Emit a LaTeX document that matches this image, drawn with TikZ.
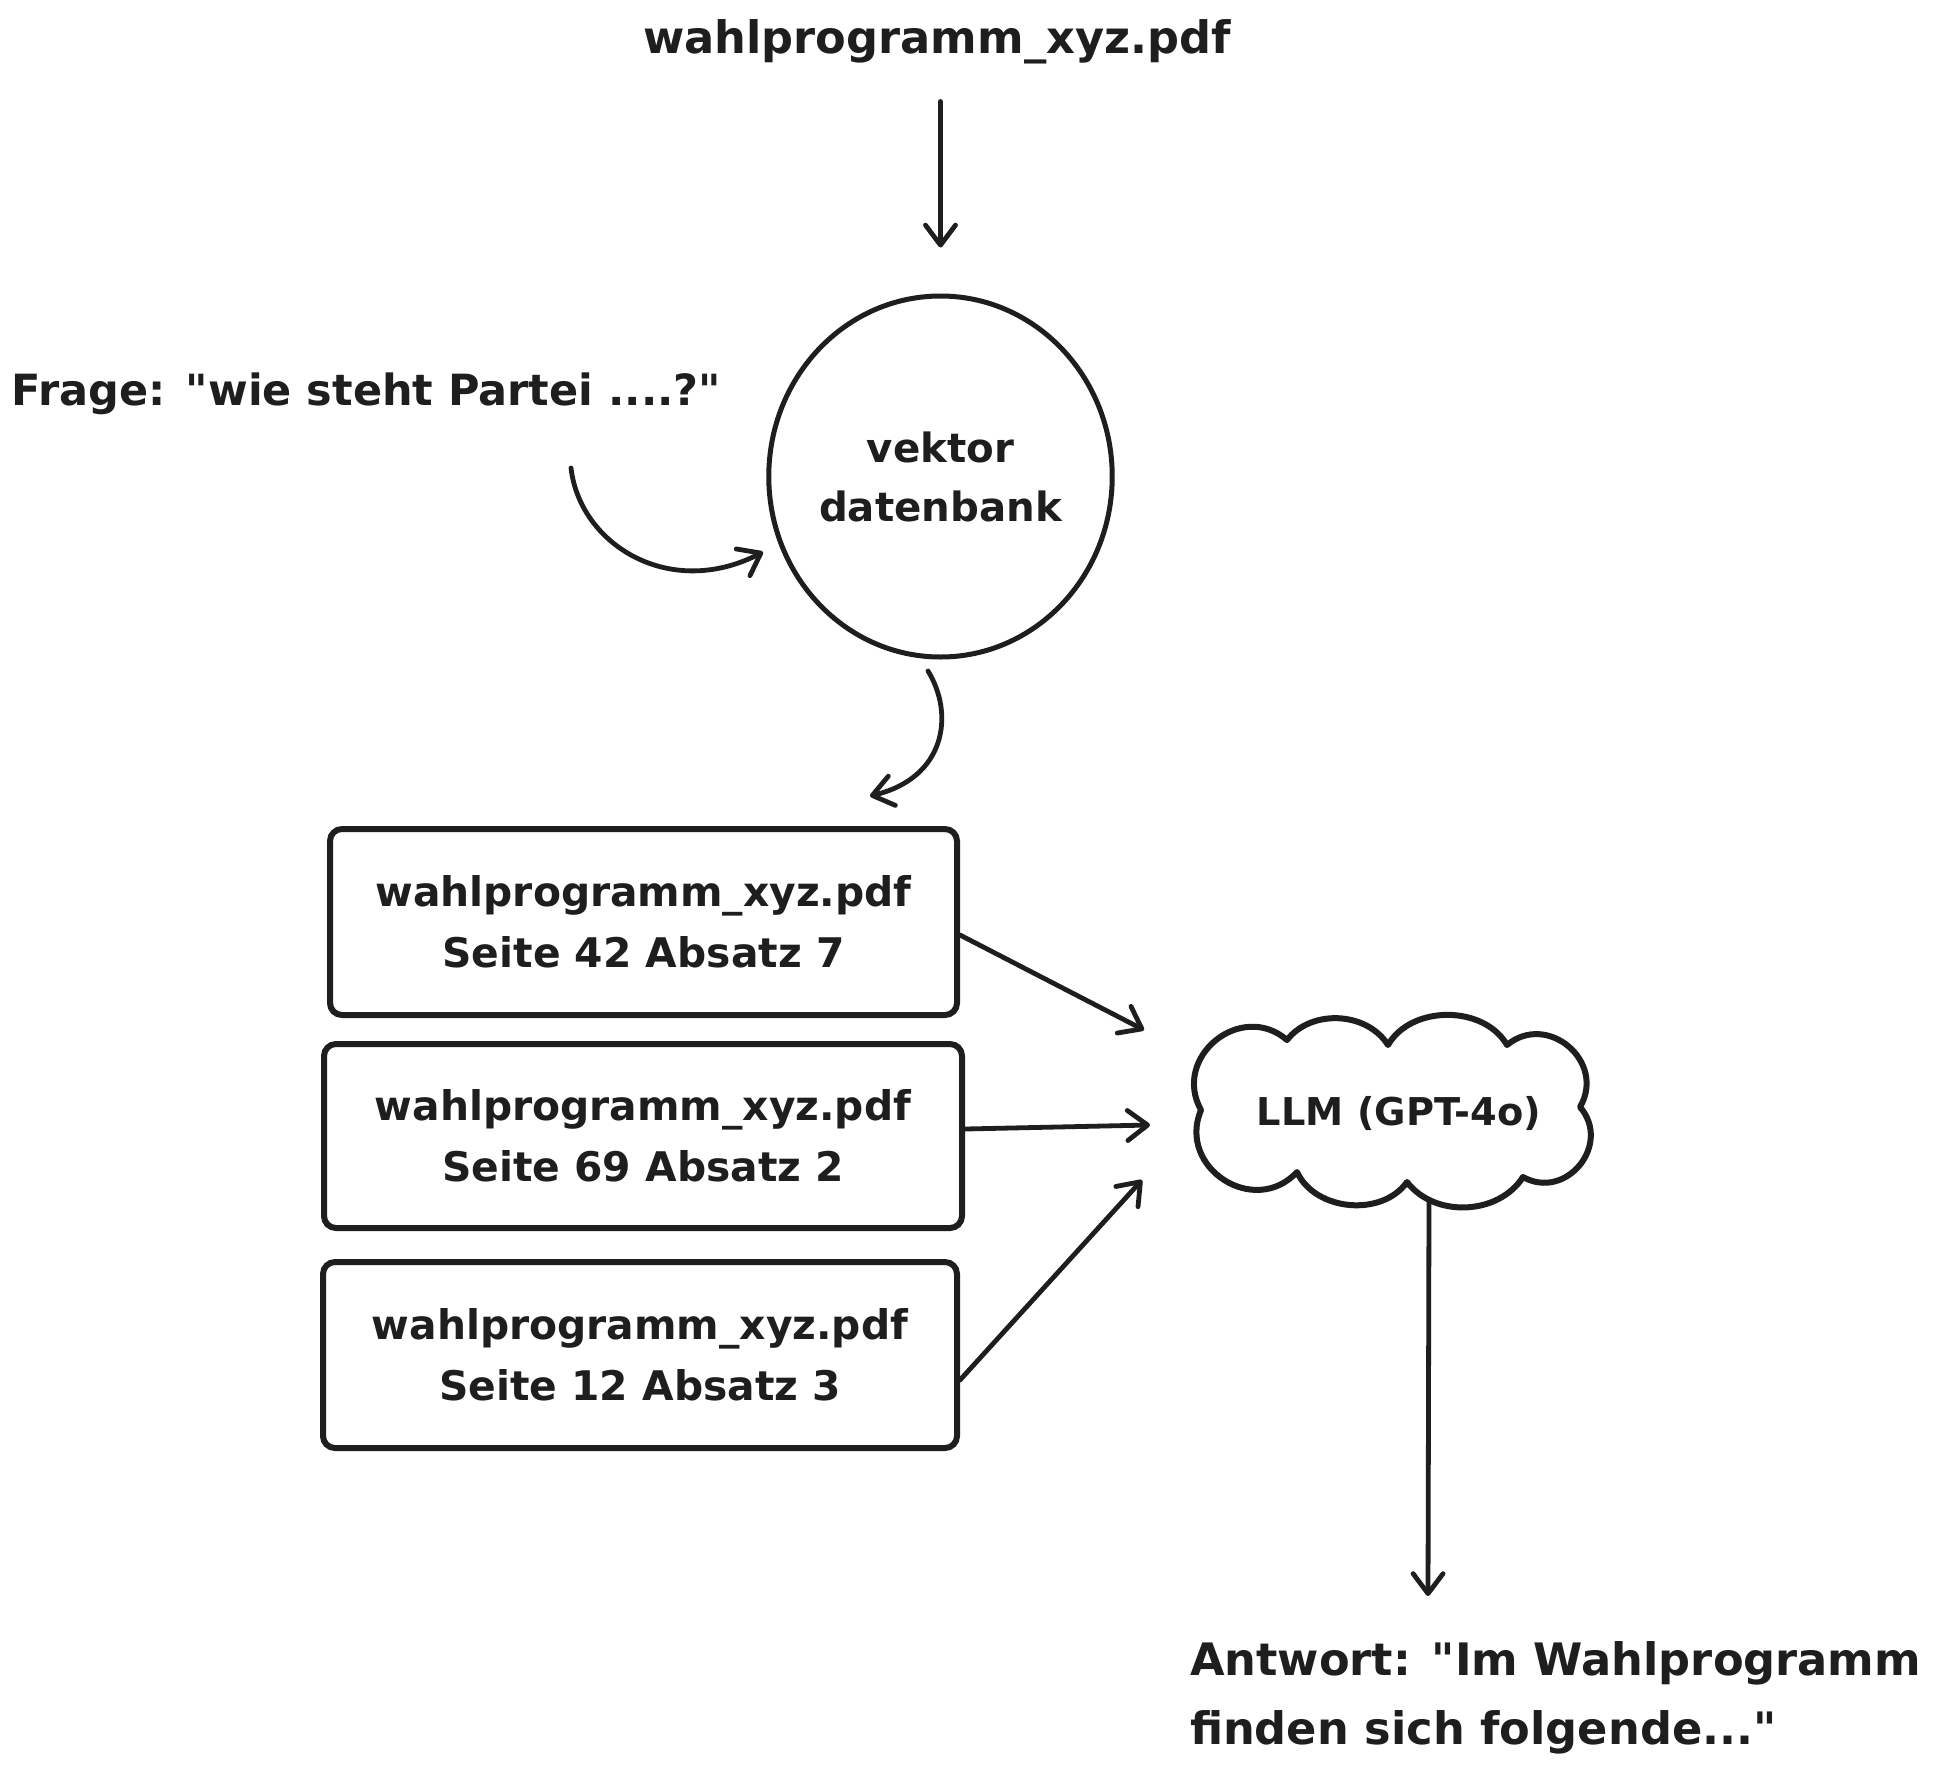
\documentclass[tikz,border=0pt]{standalone}
\usepackage{fontspec}
\setmainfont{DejaVu Sans Bold}
\usetikzlibrary{arrows.meta,shapes.geometric}
\definecolor{ink}{HTML}{1E1E1E}
\newcommand{\dq}{\textquotedbl}
\begin{document}
\begin{tikzpicture}[x=1pt,y=1pt,
  txt/.style={inner sep=0pt, outer sep=0pt, text=ink},
  bigf/.style={font=\fontsize{44.7pt}{69pt}\selectfont},
  arr/.style={draw=ink, line width=4.8pt, line cap=round,
    -{Straight Barb[length=20pt,width=30pt,round]}},
  doc/.style={draw=ink, line width=6pt, rounded corners=12pt, inner sep=0pt,
    text=ink, align=center, font=\fontsize{40.8pt}{61pt}\selectfont},
  cloudline/.style={draw=ink, line width=6pt, line join=round}
]
\fill[white] (0,0) rectangle (1938,-1767);
\useasboundingbox (0,0) rectangle (1938,-1767);

% source file
\node[txt,bigf,anchor=base] (src) at (937,-53) {wahlprogramm\_xyz.pdf};

% vector database
\node[draw=ink, line width=5pt, ellipse, minimum width=325pt, minimum height=361pt,
  inner sep=0pt, align=center, text=ink, font=\fontsize{40.3pt}{59pt}\selectfont]
  (db) at (940.5,-476.5) {vektor\\datenbank};

\draw[arr, shorten <=38pt, shorten >=46pt] (src.south -| db.north) -- (db.north);

% question
\node[txt,font=\fontsize{43pt}{60pt}\selectfont,anchor=base west] (q) at (12,-405)
  {Frage: \dq wie steht Partei ....?\dq};
\coordinate (qa) at (571,-468);
\coordinate (qb) at (763,-552);
\draw[arr] (qa) .. controls (580,-545) and (670,-600) .. (qb);

% result boxes
\node[doc, minimum width=627pt, minimum height=186pt] (b1) at (643.5,-922)
  {wahlprogramm\_xyz.pdf\\Seite 42 Absatz 7};
\node[doc, minimum width=638pt, minimum height=184pt] (b2) at (643,-1136)
  {wahlprogramm\_xyz.pdf\\Seite 69 Absatz 2};
\node[doc, minimum width=634pt, minimum height=186pt] (b3) at (640,-1355)
  {wahlprogramm\_xyz.pdf\\Seite 12 Absatz 3};

\coordinate (da) at (928,-671);
\coordinate (dz) at (870,-796);
\draw[arr] (da) .. controls (955,-715) and (945,-778) .. (dz);

% LLM cloud
\node[txt, anchor=base, font=\fontsize{38.3pt}{47pt}\selectfont] (llm) at (1399,-1125) {LLM (GPT-4o)};
\draw[cloudline] (1201,-1110)
  to[bend left=80, looseness=1.4] (1287,-1040)
  to[bend left=55] (1388,-1045)
  to[bend left=60] (1507,-1045)
  to[bend left=80, looseness=1.4] (1580,-1107)
  to[bend left=80, looseness=1.4] (1523,-1177)
  to[bend left=55] (1407,-1182)
  to[bend left=60] (1297,-1172)
  to[bend left=80, looseness=1.4] (1201,-1110) -- cycle;

\coordinate (e1) at (1144,-1030);
\coordinate (e2) at (1150,-1125);
\coordinate (e3) at (1142,-1180);
\draw[arr] ([yshift=-13pt]b1.east) -- (e1);
\draw[arr] ([yshift=7pt]b2.east) -- (e2);
\draw[arr] ([yshift=-25pt]b3.east) -- (e3);

% answer
\coordinate (lo1) at (1429,-1200);
\coordinate (lo2) at (1428,-1596);
\draw[arr] (lo1) -- (lo2);
\node[txt,bigf,anchor=north west,align=left] (ans) at (1190,-1642)
  {Antwort: \dq Im Wahlprogramm\\finden sich folgende...\dq};
\end{tikzpicture}
\end{document}
